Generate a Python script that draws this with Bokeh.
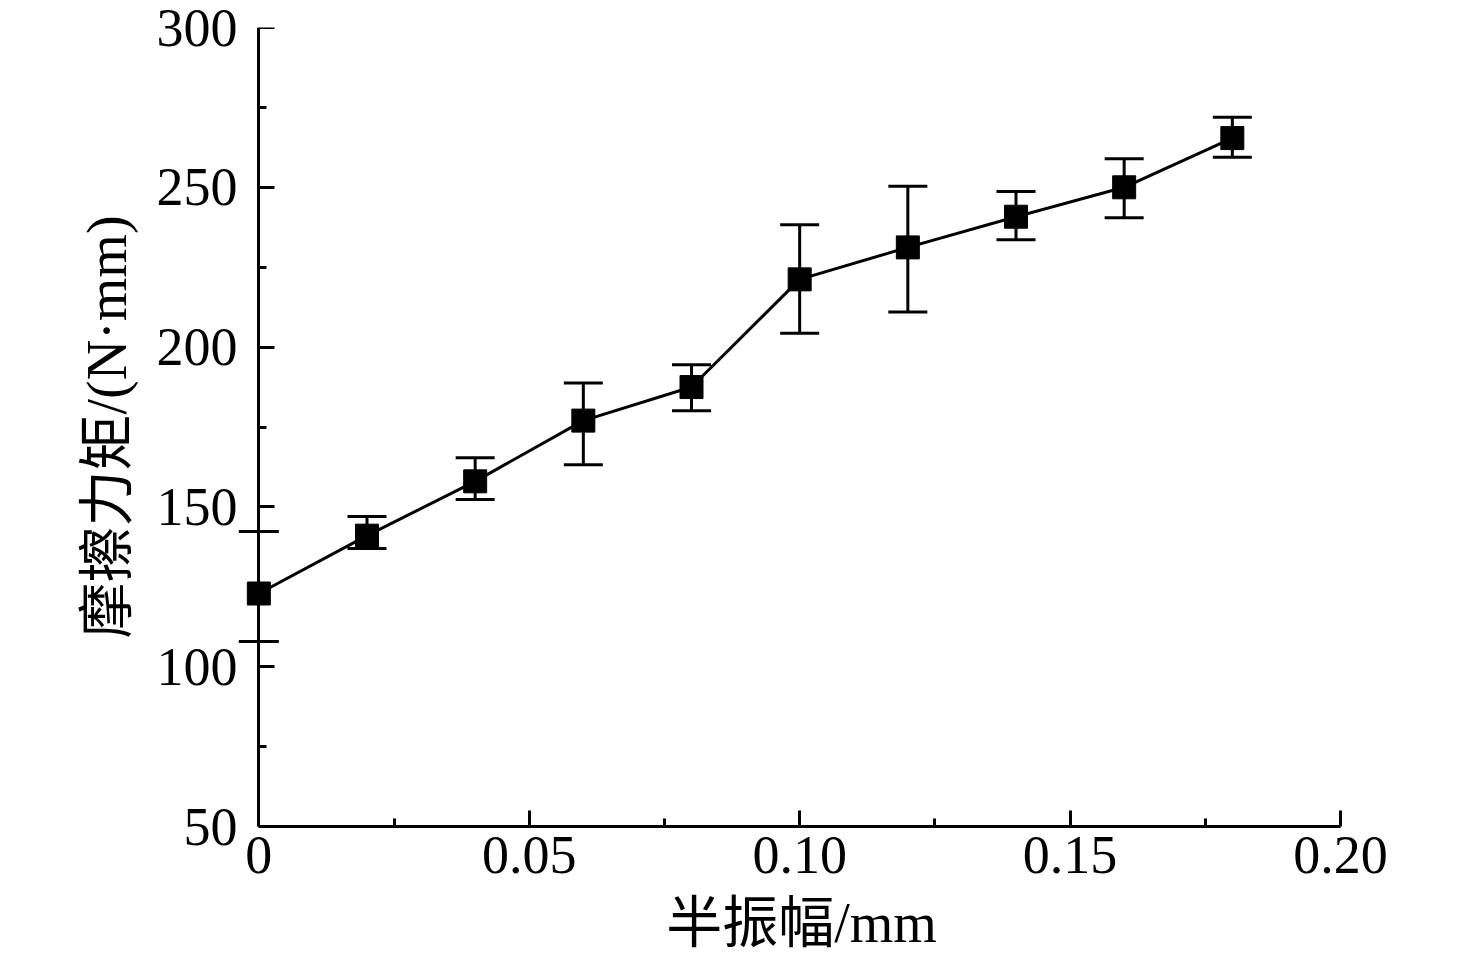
from bokeh.plotting import figure
from bokeh.models import ColumnDataSource, Whisker, TeeHead, FixedTicker, Range1d, LinearAxis
from bokeh.embed import file_html
from bokeh.resources import INLINE

# ---- data ----
amplitude = [0.0, 0.02, 0.04, 0.06, 0.08, 0.10, 0.12, 0.14, 0.16, 0.18]
torque = [122.9, 141.0, 158.0, 177.0, 187.5, 221.2, 231.2, 240.8, 250.0, 265.4]
err_upper = [None, 147.0, 165.4, 188.8, 194.5, 238.3, 250.3, 248.7, 258.9, 271.9]
err_lower = [None, 137.0, 152.3, 163.2, 180.1, 204.3, 211.0, 233.6, 240.5, 259.4]

x_ticks = [0.0, 0.05, 0.10, 0.15, 0.20]
x_tick_labels = ["0", "0.05", "0.10", "0.15", "0.20"]
x_minor = [0.025, 0.075, 0.125, 0.175]
y_ticks = [50, 100, 150, 200, 250, 300]
y_minor = [75, 125, 175, 225, 275]
axis_marks_y = [142.3, 107.9]   # stray crossing marks on the y axis

x_label = "半振幅/mm"
y_label = "摩擦力矩/(N·mm)"

SERIF = "'Liberation Serif', 'Noto Sans CJK SC'"

X0, X1 = 0.0, 0.20
pad = 0.0045  # small room left of the y axis so marks are not clipped

p = figure(width=1460, height=957, output_backend="svg", toolbar_location=None,
           x_range=Range1d(X0 - pad, X1), y_range=Range1d(50, 300),
           min_border_left=234, min_border_right=120, min_border_top=27,
           min_border_bottom=131)
p.outline_line_color = None
p.xgrid.visible = False
p.ygrid.visible = False
p.background_fill_color = "white"
p.border_fill_color = "white"

# line + markers
src = ColumnDataSource(dict(x=amplitude, y=torque))
p.line("x", "y", source=src, line_color="black", line_width=3)

# error bars
ex, eu, el = [], [], []
for xi, u, l in zip(amplitude, err_upper, err_lower):
    if u is not None:
        ex.append(xi); eu.append(u); el.append(l)
esrc = ColumnDataSource(dict(x=ex, upper=eu, lower=el))
w = Whisker(base="x", upper="upper", lower="lower", source=esrc,
            line_color="black", line_width=3,
            upper_head=TeeHead(size=39, line_width=3, line_color="black"),
            lower_head=TeeHead(size=39, line_width=3, line_color="black"))
p.add_layout(w)

p.scatter("x", "y", source=src, marker="square", size=23,
          fill_color="black", line_color="black", line_width=1)

# stray marks crossing the y axis
half = 20 / (1082 / 0.20)
p.segment(x0=[X0 - half] * len(axis_marks_y), y0=axis_marks_y,
          x1=[X0 + half] * len(axis_marks_y), y1=axis_marks_y,
          line_color="black", line_width=3)

# axes
xa = p.xaxis[0]
ya = p.yaxis[0]   # carries only the labels (at frame edge)
ya_line = LinearAxis(fixed_location=X0)  # carries line + ticks at x = 0
p.add_layout(ya_line, "left")

for ax in (xa, ya, ya_line):
    ax.axis_line_width = 3
    ax.axis_line_color = "black"
    ax.major_tick_line_width = 3
    ax.minor_tick_line_width = 3
    ax.major_tick_in = 16
    ax.major_tick_out = 0
    ax.minor_tick_in = 8
    ax.minor_tick_out = 0
    ax.major_label_text_font = "Liberation Serif"
    ax.major_label_text_font_size = "54px"
    ax.major_label_text_color = "black"
    ax.axis_label_text_font = SERIF
    ax.axis_label_text_font_size = "56px"
    ax.axis_label_text_font_style = "normal"
    ax.axis_label_text_color = "black"

xa.bounds = (X0, X1)
xa.ticker = FixedTicker(ticks=x_ticks, minor_ticks=x_minor)
xa.major_label_overrides = {t: s for t, s in zip(x_ticks, x_tick_labels)}
xa.axis_label = "\u2002" + x_label
xa.major_label_standoff = 10
xa.axis_label_standoff = 16

ya.ticker = FixedTicker(ticks=y_ticks, minor_ticks=y_minor)
ya.axis_line_color = None
ya.major_tick_line_color = None
ya.minor_tick_line_color = None
ya.major_tick_in = 0
ya.minor_tick_in = 0
ya.major_label_standoff = -3
ya.axis_label = y_label
ya.axis_label_standoff = 16

ya_line.ticker = FixedTicker(ticks=y_ticks, minor_ticks=y_minor)
ya_line.major_label_text_font_size = "0px"
ya_line.major_label_text_alpha = 0
ya_line.major_label_standoff = 0

open("out.html", "w").write(file_html(p, INLINE))
